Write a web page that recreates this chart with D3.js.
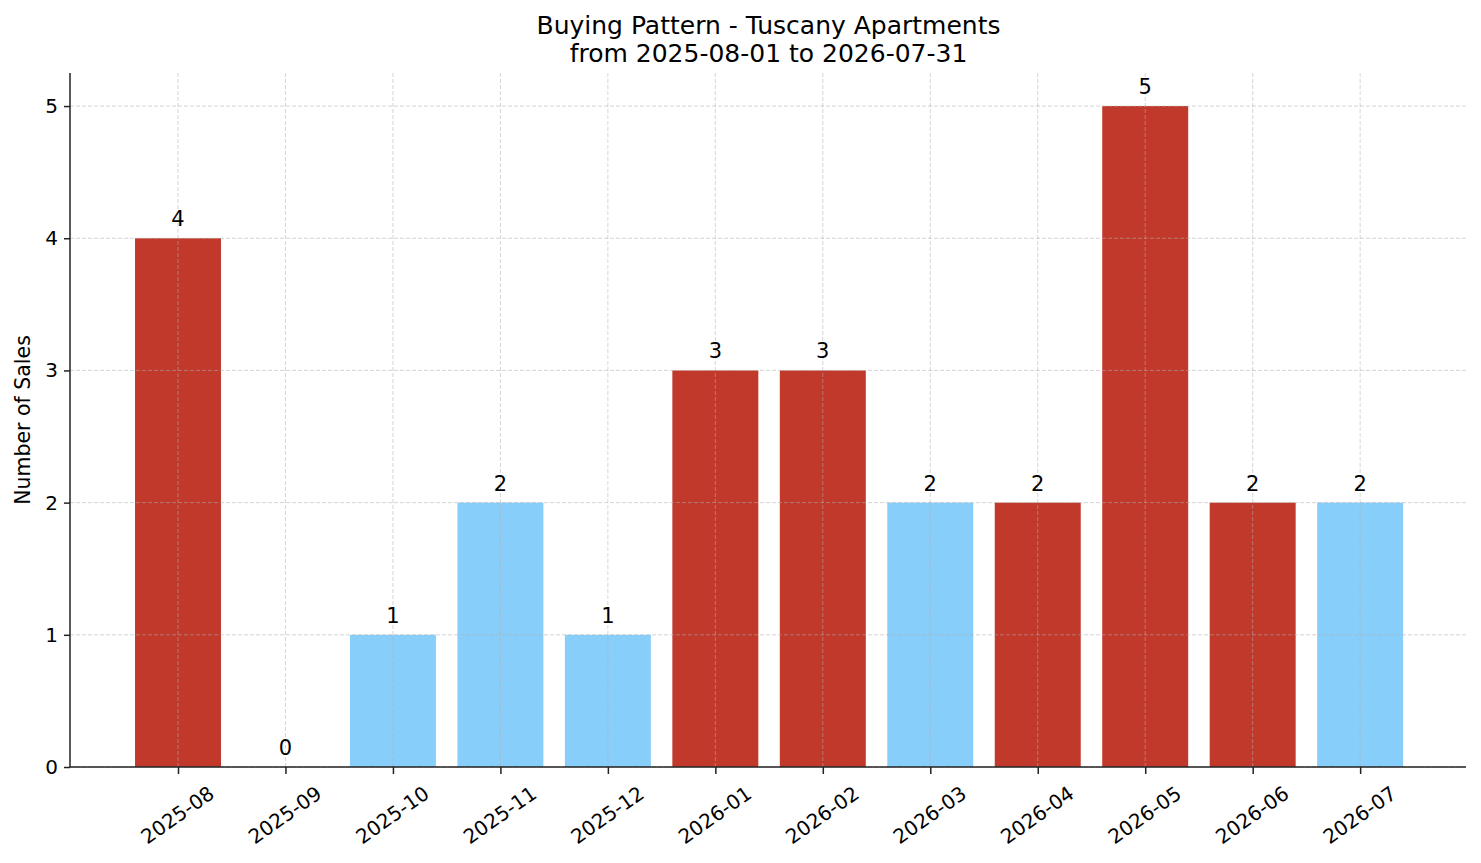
<!DOCTYPE html>
<html>
<head>
<meta charset="utf-8">
<script src="https://cdn.jsdelivr.net/npm/d3@7"></script>
<style>
  html, body { margin: 0; padding: 0; background: #fff; }
  svg { display: block; font-family: "DejaVu Sans", sans-serif; }
</style>
</head>
<body>
<svg id="chart" width="1481" height="863"></svg>
<script>
const months = ["2025-08","2025-09","2025-10","2025-11","2025-12","2026-01","2026-02","2026-03","2026-04","2026-05","2026-06","2026-07"];
const sales = [4,0,1,2,1,3,3,2,2,5,2,2];
const highlight = [true,false,false,false,false,true,true,false,true,true,true,false];
const yTicks = [0,1,2,3,4,5];
const titleLines = ["Buying Pattern - Tuscany Apartments", "from 2025-08-01 to 2026-07-31"];
const yLabel = "Number of Sales";

const W = 1481, H = 863;
const margin = {left: 70, right: 15, top: 73, bottom: 96};
const svg = d3.select("#chart");

const n = months.length;
const x = d3.scaleLinear().domain([-1.005, n - 1 + 0.985]).range([margin.left, W - margin.right]);
const y = d3.scaleLinear().domain([0, 5.25]).range([H - margin.bottom, margin.top]);
const barW = x(0.8) - x(0);

// bars
svg.append("g").selectAll("rect").data(sales).join("rect")
  .attr("x", (d, i) => x(i) - barW / 2)
  .attr("y", d => y(d))
  .attr("width", barW)
  .attr("height", d => y(0) - y(d))
  .attr("fill", (d, i) => highlight[i] ? "#c0392b" : "#87cefa");

// grid (on top of bars)
const grid = svg.append("g").attr("stroke", "#b0b0b0").attr("stroke-opacity", 0.6)
  .attr("stroke-width", 0.9).attr("stroke-dasharray", "4,2");
grid.selectAll("line.h").data(yTicks).join("line").attr("class", "h")
  .attr("x1", margin.left).attr("x2", W - margin.right)
  .attr("y1", d => y(d)).attr("y2", d => y(d));
grid.selectAll("line.v").data(months).join("line").attr("class", "v")
  .attr("x1", (d, i) => x(i)).attr("x2", (d, i) => x(i))
  .attr("y1", margin.top).attr("y2", H - margin.bottom);

// bar labels
svg.append("g").selectAll("text").data(sales).join("text")
  .attr("x", (d, i) => x(i))
  .attr("y", d => y(d) - 12)
  .attr("text-anchor", "middle")
  .attr("font-size", 21)
  .attr("fill", "#000")
  .text(d => d);

// y axis
const yAxis = svg.append("g").attr("transform", `translate(${margin.left},0)`)
  .call(d3.axisLeft(y).tickValues(yTicks).tickFormat(d3.format("d")).tickSize(6).tickPadding(6));
yAxis.select(".domain").attr("stroke", "#222").attr("stroke-width", 1.5).attr("d", `M0,${y(0)}V${margin.top}`);
yAxis.selectAll(".tick line").attr("stroke", "#222").attr("stroke-width", 1.5);
yAxis.selectAll(".tick text").attr("font-size", 20).attr("fill", "#000").attr("font-family", "DejaVu Sans, sans-serif");

// x axis
const xAxis = svg.append("g").attr("transform", `translate(0,${y(0)})`)
  .call(d3.axisBottom(x).tickValues(d3.range(n)).tickFormat(i => months[i]).tickSize(7));
xAxis.select(".domain").attr("stroke", "#222").attr("stroke-width", 1.5).attr("d", `M${margin.left},0H${W - margin.right}`);
xAxis.selectAll(".tick line").attr("stroke", "#222").attr("stroke-width", 1.5);
xAxis.selectAll(".tick text")
  .attr("font-size", 20).attr("fill", "#000").attr("font-family", "DejaVu Sans, sans-serif")
  .attr("y", 0).attr("dy", null)
  .attr("text-anchor", "middle").attr("dominant-baseline", "central")
  .attr("transform", "translate(-1,48) rotate(-35)");

// title
const title = svg.append("text").attr("text-anchor", "middle").attr("font-size", 25).attr("fill", "#000");
title.selectAll("tspan").data(titleLines).join("tspan")
  .attr("x", (margin.left + W - margin.right) / 2 + 0.5)
  .attr("y", (d, i) => 34 + i * 27.5)
  .text(d => d);

// y label
svg.append("text")
  .attr("transform", `translate(30,${(y(0) + margin.top) / 2}) rotate(-90)`)
  .attr("text-anchor", "middle")
  .attr("font-size", 20.5)
  .attr("fill", "#000")
  .text(yLabel);
</script>
</body>
</html>
